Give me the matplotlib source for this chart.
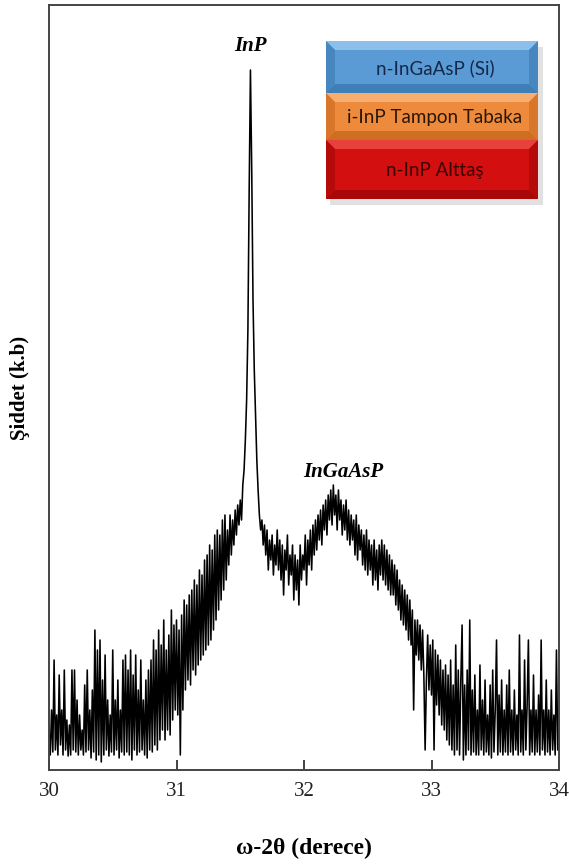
import numpy as np
import matplotlib.pyplot as plt
from matplotlib.patches import Polygon, Rectangle

# scan angle, omega-2theta (degrees), 0.01 step
angle = np.round(np.arange(30.0, 34.0001, 0.01), 2)

# intensity (arbitrary units), one row per 0.1 degree
intensity = [
    40, 15, 60, 18, 110, 20, 55, 15, 95, 25,        # 30.0
    60, 15, 100, 20, 50, 14, 45, 15, 100, 20,       # 30.1
    100, 18, 70, 15, 55, 20, 40, 15, 85, 18,        # 30.2
    100, 20, 60, 12, 80, 18, 140, 10, 120, 15,      # 30.3
    130, 8, 90, 15, 115, 20, 70, 14, 55, 18,        # 30.4
    120, 15, 70, 20, 90, 12, 60, 18, 110, 15,       # 30.5
    115, 18, 100, 15, 120, 10, 95, 20, 115, 15,     # 30.6
    80, 18, 110, 20, 70, 15, 90, 12, 100, 20,       # 30.7
    110, 18, 130, 25, 120, 20, 140, 30, 125, 40,    # 30.8
    150, 30, 120, 40, 135, 35, 160, 50, 145, 60,    # 30.9
    150, 55, 140, 15, 155, 60, 170, 80, 165, 90,    # 31.0
    175, 85, 180, 100, 190, 95, 185, 105, 200, 110, # 31.1
    195, 115, 210, 120, 215, 125, 225, 130, 220, 140,  # 31.2
    235, 150, 240, 160, 235, 170, 250, 180, 255, 190,  # 31.3
    240, 205, 255, 215, 250, 225, 260, 235, 265, 245,  # 31.4
    270, 250, 285, 300, 330, 370, 440, 580, 700, 600,  # 31.5  InP
    470, 400, 355, 310, 280, 255, 240, 250, 225, 245,  # 31.6
    215, 240, 200, 230, 210, 235, 195, 225, 205, 240,  # 31.7
    200, 230, 190, 225, 175, 220, 200, 235, 185, 215,  # 31.8
    195, 225, 170, 215, 180, 210, 165, 225, 190, 215,  # 31.9
    200, 235, 185, 230, 205, 240, 200, 245, 215, 250,  # 32.0
    220, 255, 230, 260, 225, 265, 240, 270, 235, 275,  # 32.1
    250, 280, 245, 285, 255, 275, 240, 280, 250, 270,  # 32.2  InGaAsP
    235, 265, 240, 270, 230, 260, 225, 255, 230, 250,  # 32.3
    215, 255, 210, 245, 220, 240, 205, 235, 200, 240,  # 32.4
    195, 230, 200, 225, 185, 230, 190, 220, 180, 225,  # 32.5
    195, 230, 190, 225, 185, 220, 180, 215, 175, 210,  # 32.6
    175, 205, 165, 200, 160, 190, 150, 185, 145, 180,  # 32.7
    140, 175, 130, 170, 125, 160, 60, 150, 115, 150,   # 32.8
    110, 145, 100, 140, 95, 20, 90, 135, 80, 125,      # 32.9
    75, 130, 20, 120, 65, 115, 55, 110, 45, 100,       # 33.0
    40, 105, 30, 95, 25, 110, 20, 85, 15, 125,         # 33.1
    20, 100, 15, 90, 145, 10, 85, 15, 100, 20,         # 33.2
    150, 15, 80, 18, 95, 15, 60, 15, 105, 20,          # 33.3
    70, 15, 90, 18, 55, 15, 85, 12, 100, 18,           # 33.4
    60, 130, 15, 75, 18, 90, 15, 60, 18, 85,           # 33.5
    15, 100, 18, 60, 15, 80, 20, 55, 15, 135,          # 33.6
    18, 60, 15, 110, 20, 65, 130, 15, 60, 18,          # 33.7
    95, 15, 60, 18, 75, 15, 130, 20, 60, 15,           # 33.8
    90, 18, 60, 15, 80, 20, 55, 15, 120, 20,           # 33.9
    60,                                                # 34.0
]

xticks = [30, 31, 32, 33, 34]
peak_labels = ['InP', 'InGaAsP']
peak_pos = [(31.58, 724), (32.31, 298)]

layer_names = ['n-InGaAsP (Si)', 'i-InP Tampon Tabaka', 'n-InP Alttaş']
layer_colors = ['#5b9bd5', '#ee8a3c', '#d40f0f']
layer_light = ['#8cc0ea', '#f7ae70', '#e8403a']
layer_dark = ['#3f7fb8', '#cf6e22', '#a80808']
layer_text = ['#14284a', '#2a1606', '#3a0404']

plt.rcParams['font.family'] = ['Liberation Serif', 'DejaVu Serif']

fig = plt.figure(figsize=(5.69, 8.64), dpi=100)
ax = fig.add_axes([49 / 569, 94 / 864, 510 / 569, 765 / 864])

ax.plot(angle, intensity, color='black', lw=1.15)
ax.set_xlim(30, 34)
ax.set_ylim(0, 765)
ax.set_xticks(xticks)
ax.set_xticklabels([str(t) for t in xticks], fontsize=15)
ax.set_yticks([])
ax.tick_params(axis='x', direction='in', length=7, width=1.2, pad=9, colors='#222222')
for s in ax.spines.values():
    s.set_color('#444444')
    s.set_linewidth(1.4)

ax.set_xlabel('ω-2θ (derece)', fontsize=17, fontweight='bold', labelpad=26)
ax.set_ylabel('Şiddet (k.b)', fontsize=15, fontweight='bold', labelpad=14)

for lab, (px, py) in zip(peak_labels, peak_pos):
    ax.text(px, py, lab, ha='center', va='center', fontsize=15,
            fontweight='bold', style='italic')

# layer stack sketch (pixel coordinates of the box)
ins = fig.add_axes([326 / 569, (864 - 205) / 864, 218 / 569, 164 / 864])
ins.set_xlim(0, 218)
ins.set_ylim(164, 0)
ins.axis('off')
ins.add_patch(Rectangle((4, 6), 213, 158, color='#c4c4c4', alpha=0.5, lw=0))
bounds = [(0, 52), (52, 99), (99, 158)]
b = 9
for (y0, y1), c, cl, cd, name, tc in zip(bounds, layer_colors, layer_light,
                                         layer_dark, layer_names, layer_text):
    w = 212
    ins.add_patch(Rectangle((0, y0), w, y1 - y0, color=c, lw=0))
    ins.add_patch(Polygon([(0, y0), (w, y0), (w - b, y0 + b), (b, y0 + b)],
                          color=cl, lw=0))
    ins.add_patch(Polygon([(0, y1), (w, y1), (w - b, y1 - b), (b, y1 - b)],
                          color=cd, lw=0))
    ins.add_patch(Polygon([(0, y0), (b, y0 + b), (b, y1 - b), (0, y1)],
                          color=cd, lw=0, alpha=0.7))
    ins.add_patch(Polygon([(w, y0), (w - b, y0 + b), (w - b, y1 - b), (w, y1)],
                          color=cd, lw=0, alpha=0.7))
    ins.text(w / 2 + 3, (y0 + y1) / 2 + 1, name, ha='center', va='center',
             fontsize=13.5, color=tc, family=['Lato', 'DejaVu Sans'])

fig.savefig('out.png', dpi=100)
